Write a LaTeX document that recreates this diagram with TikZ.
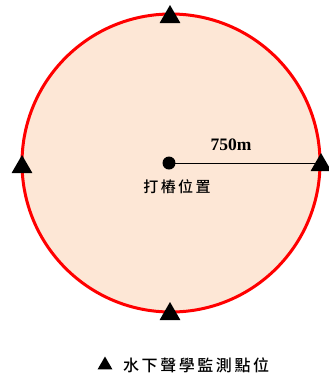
\documentclass[tikz,border=0pt]{standalone}
\usepackage{fontspec}
\usetikzlibrary{shapes.geometric}
\setmainfont{Liberation Serif}
\newfontfamily\cjk[LetterSpace=16]{Noto Sans CJK TC Medium}
\definecolor{peach}{HTML}{FDE7D6}
\begin{document}
\begin{tikzpicture}[x=1pt,y=-1pt,
  tri/.style={fill=black,draw=none,regular polygon,regular polygon sides=3,inner sep=0pt,minimum size=24pt},
  lbl/.style={inner sep=0pt}]
\useasboundingbox (0,0) rectangle (329,376);
\draw[red,line width=3pt,fill=peach] (171,163) circle (149);
\node[tri] (t1) at (170,17) {};
\node[tri] (t2) at (22,167) {};
\node[tri] (t3) at (321,165) {};
\node[tri] (t4) at (170,314) {};
\node[circle,fill=black,inner sep=0pt,minimum size=13pt] (c) at (169,163) {};
\draw[line width=0.9pt] (c.center) -- (c.center -| t3.center);
\node[lbl,font=\bfseries\fontsize{17.5}{17.5}\selectfont] (d) at (231,144.5) {750m};
\node[lbl,font=\cjk\fontsize{15}{15}\selectfont] (p) at (177,187) {打樁位置};
\node[tri,minimum size=17pt] (lt) at (105,365) {};
\node[lbl,anchor=west,font=\cjk\fontsize{16}{16}\selectfont] (lg) at (123,365) {水下聲學監測點位};
\end{tikzpicture}
\end{document}
